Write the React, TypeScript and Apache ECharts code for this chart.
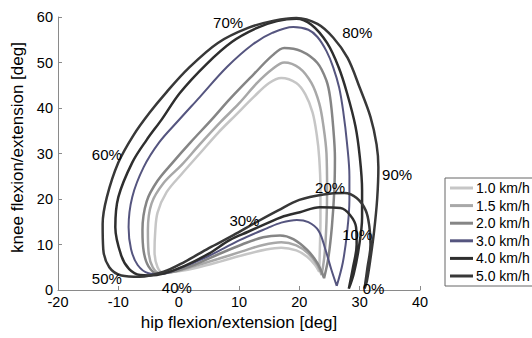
import React, { useEffect, useRef } from "react";
import * as echarts from "echarts";

const speeds = ["1.0 km/h", "1.5 km/h", "2.0 km/h", "3.0 km/h", "4.0 km/h", "5.0 km/h"];
const colors = ["#c6c6c6", "#a8a8a8", "#858585", "#55557f", "#2e2e2e", "#383838"];
const widths = [2.5, 2.5, 2.5, 2, 2.5, 2.5];

// hip [deg], knee [deg] – one gait cycle each, starting at heel strike
const loop10: number[][] = [
  [23.3, 4.0], [22.6, 5.5], [21.3, 7.3], [19.5, 8.7], [17, 9.3], [14.5, 8.9], [11, 7.8], [7, 6.3],
  [3, 4.9], [0, 4.1], [-2.5, 3.8], [-3.5, 5], [-4, 8.5], [-3.9, 12.5], [-3.5, 17], [-2, 21.5],
  [0.5, 25.5], [3.5, 30], [6.5, 34.5], [9.5, 38.5], [12.5, 42.5], [15, 45.5], [17, 46.6],
  [19.5, 45.5], [21, 43], [22.2, 39], [22.9, 34], [23.3, 29], [23.5, 22], [23.5, 15], [23.4, 9], [23.3, 4.0],
];
const loop15: number[][] = [
  [23.7, 3.3], [23, 5.5], [21.5, 8], [19.5, 9.8], [17, 10.5], [14, 9.9], [10.5, 8.5], [6.5, 6.8],
  [2.5, 5.2], [-0.5, 4.1], [-3, 3.7], [-4.3, 5], [-5, 8.5], [-5.1, 13.2], [-4.5, 19], [-2.5, 23.5],
  [0.5, 27.5], [3.5, 32], [7, 37], [10, 41], [13, 45.5], [15.5, 48.5], [17.5, 50],
  [20, 48.8], [22, 45.5], [23.3, 41], [24, 36], [24.5, 30], [24.6, 22], [24.5, 15], [24.2, 8], [23.7, 3.3],
];
const loop20: number[][] = [
  [24.1, 2.6], [23, 5.9], [21.3, 8.8], [19, 11.2], [16.8, 12], [14, 11.6], [10.5, 10], [6.5, 7.8],
  [2.5, 5.5], [-1, 4], [-3.5, 3.6], [-5, 5.2], [-5.8, 8.5], [-6, 13.2], [-5.3, 19.5], [-3.5, 24],
  [-1, 28], [2, 32.5], [5.5, 37.5], [8.5, 42], [12.5, 47.5], [15.5, 51.5], [17.5, 53.2],
  [20.3, 52.5], [23, 49.9], [24.5, 46], [25.1, 42.4], [25.6, 36], [25.9, 29], [25.8, 22], [25.4, 14], [24.8, 7], [24.1, 2.6],
];
const loop30: number[][] = [
  [26.2, 0.9], [25.3, 4.5], [24.3, 9], [23.2, 13], [21.5, 14.9], [19.6, 15.4], [17, 14.8], [14.7, 13.6],
  [10.2, 11], [4.7, 7.3], [0.2, 4.8], [-3, 3.5], [-5, 3.7], [-6.8, 5.5], [-7.9, 9], [-8.3, 13.8],
  [-7.7, 20.4], [-5.8, 27], [-3.2, 32.5], [0, 37.3], [3.5, 42.4], [8, 49], [12.3, 54], [15.5, 56.5],
  [19, 57.8], [21.5, 57.2], [23, 55.6], [24.5, 52.5], [25.6, 49], [26.6, 44.5], [27.3, 39], [27.9, 32.3],
  [28.3, 25], [28.3, 19.8], [27.9, 12.5], [27.2, 6], [26.2, 0.9],
];
const loop40: number[][] = [
  [28.2, 0.3], [28.9, 5], [29.5, 10], [29.4, 13.8], [28.4, 16.5], [26.8, 18], [23.4, 18.2], [20.1, 17.1],
  [17, 16], [14.7, 14.7], [11.5, 12.8], [8.5, 11], [5, 8], [1, 5.3], [-2.5, 3.6], [-4.8, 3.2],
  [-6.4, 3.3], [-8.2, 4.6], [-9.5, 7.5], [-10.5, 13.8], [-10, 20.4], [-7.7, 28], [-5.3, 33], [-2.8, 37.5],
  [0.2, 43.3], [4.5, 49.5], [8.8, 54.5], [13, 57.6], [16.3, 59.1], [19.5, 59.6], [22, 58.3], [24.6, 54.3],
  [26.5, 49], [27.9, 43.3], [29.3, 36], [30, 29.5], [30.4, 22], [30.4, 16], [29.8, 8.8], [29, 3.5], [28.2, 0.3],
];
const loop50: number[][] = [
  [30.8, 0.3], [31.3, 5], [31.8, 10], [31.6, 14], [31, 17.5], [29.5, 20.2], [27.5, 21.3], [24, 21],
  [20, 19.8], [16.5, 17.5], [13, 15], [9, 12], [5, 9.2], [1, 6.2], [-2.5, 4], [-6.5, 2.9],
  [-9.5, 3.2], [-11.5, 5], [-12.5, 9], [-12.6, 14.5], [-11.9, 20.4], [-10, 28], [-7.5, 34], [-4.8, 39],
  [-2, 43.5], [1.6, 48.7], [6.5, 54.3], [11.5, 57.6], [15.8, 59.2], [19.5, 59.8], [23, 58.5], [25.6, 55.5],
  [28, 51], [30, 44.5], [31.8, 38], [32.8, 32], [33.1, 27], [32.9, 20], [32.4, 13], [31.8, 7], [31.2, 2], [30.8, 0.3],
];
const loops = [loop10, loop15, loop20, loop30, loop40, loop50];

// gait-phase annotations [hip, knee, text]
const phaseLabels: [number, number, string][] = [
  [32.3, 0.4, "0%"], [29.6, 12.1, "10%"], [25.1, 22.6, "20%"], [10.9, 15.2, "30%"],
  [-0.3, 0.5, "40%"], [-11.9, 2.5, "50%"], [-11.9, 29.7, "60%"], [8.2, 58.7, "70%"],
  [29.6, 56.7, "80%"], [36.2, 25.3, "90%"],
];

const FONT = "Liberation Sans, Arial, sans-serif";
const INK = "#000";

export default function App() {
  const ref = useRef<HTMLDivElement>(null);
  useEffect(() => {
    if (!ref.current) return;
    const chart = echarts.init(ref.current, undefined, { renderer: "svg" });
    const lineSeries = loops.map((d, i) => ({
      name: speeds[i],
      type: "line",
      data: d,
      smooth: 0.35,
      showSymbol: false,
      symbol: "none",
      lineStyle: { color: colors[i], width: widths[i] },
      itemStyle: { color: colors[i] },
      z: 2 + i,
    }));
    chart.setOption({
      animation: false,
      backgroundColor: "#ffffff",
      textStyle: { fontFamily: FONT },
      grid: { left: 58, right: 112, top: 17, bottom: 48, containLabel: false, outerBoundsMode: "none" },
      xAxis: {
        type: "value",
        min: -20,
        max: 40,
        interval: 10,
        name: "hip flexion/extension [deg]",
        nameLocation: "middle",
        nameGap: 24,
        nameTextStyle: { fontSize: 17, color: INK, fontFamily: FONT },
        axisLine: { show: true, onZero: false, lineStyle: { color: "#8a8a8a", width: 1 } },
        axisTick: { show: true, inside: true, length: 4, lineStyle: { color: "#8a8a8a" } },
        axisLabel: { fontSize: 14.5, color: INK, margin: 4, fontFamily: FONT },
        splitLine: { show: false },
      },
      yAxis: {
        type: "value",
        min: 0,
        max: 60,
        interval: 10,
        name: "knee flexion/extension [deg]",
        nameLocation: "middle",
        nameGap: 32,
        nameTextStyle: { fontSize: 17, color: INK, fontFamily: FONT, padding: [0, 0, 0, 12] },
        axisLine: { show: true, onZero: false, lineStyle: { color: "#8a8a8a", width: 1 } },
        axisTick: { show: true, inside: true, length: 4, lineStyle: { color: "#8a8a8a" } },
        axisLabel: { fontSize: 14.5, color: INK, margin: 5, fontFamily: FONT },
        splitLine: { show: false },
      },
      legend: {
        orient: "vertical",
        left: 445,
        top: 178,
        data: speeds,
        icon: "rect",
        itemWidth: 23,
        itemHeight: 3,
        itemGap: 3.6,
        padding: [3, 10, 3, 5],
        borderColor: "#666",
        borderWidth: 1,
        textStyle: { fontSize: 14, color: INK, lineHeight: 14, padding: [0, 0, 0, -2], fontFamily: FONT },
      },
      series: [
        ...lineSeries,
        {
          type: "scatter",
          name: "phase",
          data: phaseLabels.map((p) => [p[0], p[1], p[2]]),
          symbolSize: 0,
          silent: true,
          z: 10,
          itemStyle: { opacity: 1 },
          label: {
            show: true,
            position: "inside",
            formatter: (p: any) => p.value[2],
            fontSize: 15,
            color: INK,
            opacity: 1,
            fontFamily: FONT,
          },
        },
      ],
    });
    return () => chart.dispose();
  }, []);
  return (
    <div
      ref={ref}
      style={{ position: "fixed", left: 0, top: 0, width: 532, height: 338 }}
    />
  );
}
